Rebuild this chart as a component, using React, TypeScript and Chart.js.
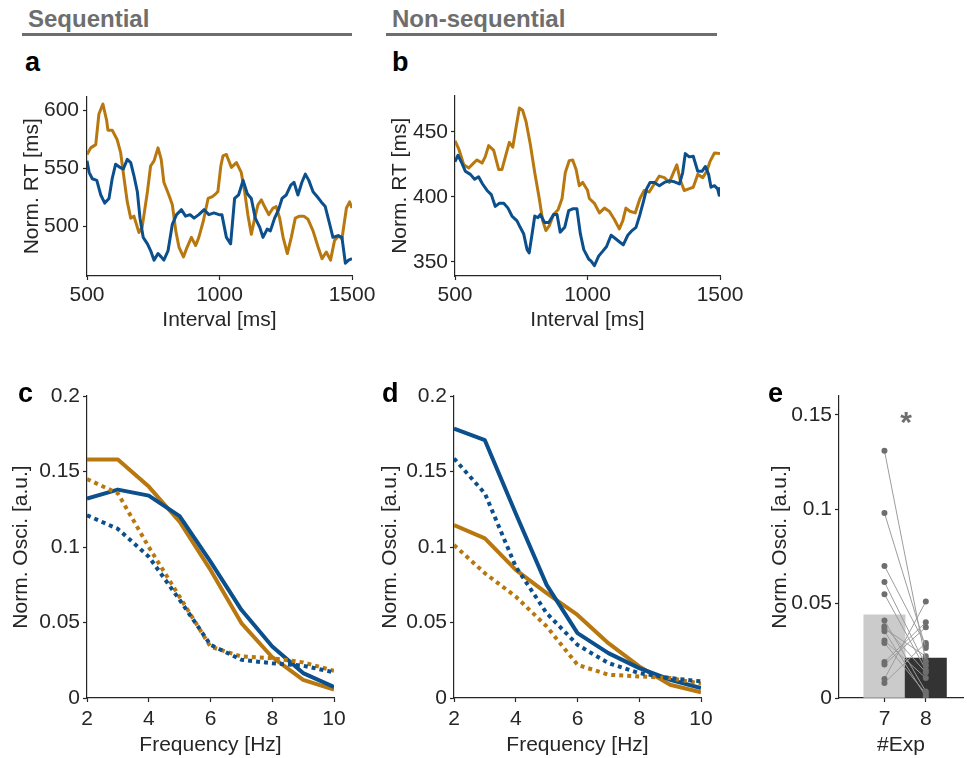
import React, { useEffect, useRef } from "react";
import { Chart, registerables } from "chart.js";
Chart.register(...registerables);

// ---------------- data ----------------
// Panel a (Sequential): interval [ms] vs normalized RT [ms]
const seqBlue: [number, number][] = [
  [500, 556.5], [508, 546.6], [520, 541], [537, 539.6], [552, 527], [567, 520], [583, 524], [595, 541],
  [608, 553.6], [625, 550.8], [637, 549.4], [652, 557.8], [665, 555], [677, 543.8], [690, 529.8], [700, 507],
  [712, 490.4], [728, 484.8], [740, 479], [753, 470.7], [768, 476.4], [780, 473.5], [790, 470.7], [806, 479],
  [822, 501.7], [838, 510], [856, 514.3], [872, 508.7], [889, 510], [904, 507], [922, 510], [942, 514.3],
  [960, 510], [979, 511.5], [998, 510], [1009, 510], [1026, 490.4], [1042, 484.8], [1057, 524], [1072, 527],
  [1089, 539.6], [1105, 528], [1120, 524], [1135, 507], [1152, 499], [1164, 490.4], [1180, 497.5], [1192, 496],
  [1208, 507], [1223, 514.3], [1236, 524], [1252, 527], [1269, 535.5], [1281, 538], [1296, 527], [1311, 538],
  [1324, 545], [1337, 539.6], [1353, 529.8], [1369, 525.5], [1384, 521], [1399, 517], [1416, 501.7], [1428, 490.4],
  [1447, 491.8], [1462, 490.4], [1475, 468], [1487, 470.7], [1500, 472],
];
const seqOrange: [number, number][] = [
  [500, 562], [514, 567.7], [533, 570.5], [545, 597], [560, 605.6], [574, 591.6], [579, 583], [595, 583],
  [614, 574.7], [627, 563.5], [640, 541], [652, 521], [665, 507], [677, 508.7], [696, 494.6], [708, 499],
  [728, 529.8], [740, 552], [753, 556.5], [768, 567.7], [780, 557.8], [790, 538], [809, 527], [822, 518.5],
  [835, 496], [847, 482], [864, 473.5], [878, 482], [894, 490.4], [910, 483.4], [922, 490.4], [939, 504.5],
  [957, 524], [973, 525.5], [986, 528], [994, 530], [1005, 552], [1013, 560.7], [1026, 562], [1045, 550.8],
  [1064, 555], [1082, 546.6], [1095, 529.8], [1107, 510], [1120, 493], [1133, 507], [1145, 518.5], [1158, 522.7],
  [1170, 517], [1186, 510], [1202, 515.7], [1214, 517], [1227, 507], [1240, 490.4], [1256, 476.4], [1271, 490.4],
  [1286, 507], [1302, 508.7], [1318, 508.7], [1334, 506], [1353, 496], [1372, 482], [1387, 472], [1403, 477.7],
  [1419, 470.7], [1434, 487.6], [1450, 491.8], [1462, 489], [1479, 515.7], [1491, 521], [1500, 515.7],
];

// Panel b (Non-sequential)
const nonBlue: [number, number][] = [
  [500, 427.1], [511, 432], [526, 426], [539, 419.7], [558, 417.3], [574, 413.6], [589, 415.5], [604, 409.9],
  [621, 404.9], [637, 401.7], [652, 392.6], [667, 395], [684, 395], [700, 391.3], [715, 385.2], [734, 381.5],
  [746, 376.5], [759, 371.6], [772, 359.3], [780, 356.8], [791, 371.6], [801, 385.2], [813, 383.9], [822, 386.4],
  [838, 380.2], [854, 380.2], [872, 386.4], [885, 386.4], [897, 372.8], [914, 376.5], [929, 389.4], [944, 390.8],
  [960, 390.8], [973, 371.6], [986, 359.3], [1005, 351.9], [1013, 350.6], [1026, 346.9], [1042, 354.3], [1057, 358],
  [1072, 361.7], [1089, 370.4], [1105, 367.9], [1120, 365.4], [1135, 363], [1152, 370.4], [1168, 374], [1183, 376.5],
  [1198, 386.4], [1211, 396.3], [1223, 406.1], [1236, 411.1], [1252, 411.1], [1271, 408.6], [1290, 411.1], [1309, 412.3],
  [1328, 411.6], [1347, 409.9], [1359, 418.5], [1369, 433.3], [1384, 430.8], [1399, 431.3], [1416, 419.7], [1432, 419.7],
  [1445, 423.4], [1457, 417.3], [1466, 407.4], [1479, 408.6], [1491, 406.1], [1497, 401.2], [1500, 407.4],
];
const nonOrange: [number, number][] = [
  [500, 443.2], [514, 437], [533, 424.7], [552, 422.2], [570, 426], [583, 428.4], [602, 426], [614, 430.8],
  [627, 439.5], [646, 435.8], [665, 421], [677, 421], [690, 430.8], [705, 442], [718, 438.2], [730, 453],
  [743, 468.4], [755, 466.7], [768, 458], [784, 440.7], [801, 418.5], [818, 398.7], [831, 381.5], [843, 374],
  [856, 377.8], [872, 386.4], [889, 390], [904, 398.7], [916, 418.5], [931, 427.9], [944, 428.4], [957, 421],
  [969, 408.6], [982, 411.1], [1000, 405], [1007, 398.7], [1026, 395], [1045, 387.6], [1064, 391.3], [1082, 388.9],
  [1101, 382.7], [1120, 375.3], [1133, 381.5], [1145, 391.3], [1160, 388.9], [1180, 387.6], [1198, 398.7], [1214, 404.9],
  [1233, 403.7], [1252, 409.9], [1271, 416], [1290, 414.8], [1309, 411.1], [1324, 418.5], [1337, 424.7], [1349, 413.6],
  [1365, 404.9], [1382, 406.1], [1399, 407.4], [1416, 417.3], [1435, 414.8], [1450, 419.7], [1462, 427.1], [1479, 433.8],
  [1500, 433.3],
];

// Panels c, d: frequency spectra
const freqHz = [2, 3, 4, 5, 6, 7, 8, 9, 10];
const seqBlueSolid = [0.132, 0.138, 0.134, 0.1205, 0.0903, 0.0584, 0.0341, 0.0165, 0.0073];
const seqOrangeSolid = [0.158, 0.158, 0.14, 0.1167, 0.0848, 0.0496, 0.027, 0.012, 0.0055];
const seqBlueDotted = [0.121, 0.112, 0.0936, 0.065, 0.0352, 0.0253, 0.023, 0.0214, 0.017];
const seqOrangeDotted = [0.145, 0.1355, 0.1, 0.067, 0.034, 0.0275, 0.0264, 0.0236, 0.018];

const nonBlueSolid = [0.1784, 0.1707, 0.1222, 0.0749, 0.043, 0.0297, 0.0198, 0.0121, 0.0066];
const nonOrangeSolid = [0.1145, 0.1057, 0.0848, 0.0694, 0.055, 0.0363, 0.0209, 0.0088, 0.0037];
const nonBlueDotted = [0.1586, 0.1355, 0.087, 0.0562, 0.0352, 0.0231, 0.0165, 0.0132, 0.011];
const nonOrangeDotted = [0.1013, 0.0826, 0.0672, 0.0474, 0.022, 0.0154, 0.0143, 0.0132, 0.0095];

// Panel e: experiments 7 and 8 (paired subjects)
const expLabels = [7, 8];
const expMeans = [0.044, 0.0212];
const exp7Vals = [0.131, 0.098, 0.07, 0.0614, 0.055, 0.041, 0.038, 0.0368, 0.0354, 0.0304, 0.0292, 0.0191, 0.0177, 0.0101, 0.008];
const exp8Vals = [0.0194, 0.0265, 0.0279, 0.0172, 0.015, 0.0035, 0.0136, 0.0221, 0.0009, 0.0106, 0.0023, 0.0401, 0.0375, 0.0511, 0.0292];

// ---------------- styles ----------------
const FONT = "'Liberation Sans', Arial, Helvetica, sans-serif";
const FS = 21;
const INK = "#262626";
const BLUE = "#0b4f8c";
const ORANGE = "#b9780f";
const GRAY = "#6e6e6e";

const fmt = (v: any) => String(+Number(v).toFixed(6));

type AxisSpec = {
  min: number; max: number; step?: number; title: string; size: number;
  tickPad: number; titlePad: number; vertical: boolean; ticks?: number[];
};

function makeAxis(s: AxisSpec): any {
  const ax: any = {
    type: "linear",
    min: s.min,
    max: s.max,
    offset: false,
    border: { display: true, color: INK, width: 1.2 },
    grid: { display: true, drawOnChartArea: false, drawTicks: true, tickLength: 4, tickColor: INK, tickWidth: 1.2, offset: false },
    ticks: {
      stepSize: s.step, includeBounds: false, autoSkip: false, maxRotation: 0, minRotation: 0,
      color: INK, padding: s.tickPad, font: { family: FONT, size: FS }, callback: fmt,
    },
    title: {
      display: true, text: s.title, color: INK, font: { family: FONT, size: FS },
      padding: s.vertical ? { top: s.titlePad, bottom: 0 } : { top: 0, bottom: s.titlePad },
    },
    afterFit: (scale: any) => {
      if (s.vertical) scale.width = s.size;
      else scale.height = s.size;
    },
  };
  if (s.ticks) {
    const t = s.ticks;
    ax.afterBuildTicks = (scale: any) => { scale.ticks = t.map((v) => ({ value: v })); };
  }
  return ax;
}

function baseOptions(padTop: number, padRight: number, x: any, y: any): any {
  return {
    animation: false,
    responsive: false,
    maintainAspectRatio: false,
    events: [],
    layout: { padding: { top: padTop, right: padRight, left: 0, bottom: 0 } },
    plugins: { legend: { display: false }, tooltip: { enabled: false } },
    scales: { x, y },
  };
}

const seriesLine = (pts: { x: number; y: number }[], color: string, width: number, dashed = false): any => ({
  type: "line",
  data: pts,
  borderColor: color,
  backgroundColor: color,
  borderWidth: width,
  borderDash: dashed ? [4, 4] : [],
  borderCapStyle: "butt",
  borderJoinStyle: "round",
  pointRadius: 0,
  fill: false,
  tension: 0,
});

const tuples = (arr: [number, number][]) => arr.map(([x, y]) => ({ x, y }));
const spectrum = (vals: number[]) => freqHz.map((f, i) => ({ x: f, y: vals[i] }));

// ---------------- chart configs ----------------
function configA(): any {
  return {
    type: "line",
    data: { datasets: [seriesLine(tuples(seqBlue), BLUE, 3), seriesLine(tuples(seqOrange), ORANGE, 3)] },
    options: baseOptions(
      12, 28,
      makeAxis({ min: 500, max: 1500, step: 500, title: "Interval [ms]", size: 64, tickPad: 2.5, titlePad: 7.5, vertical: false }),
      makeAxis({ min: 457, max: 612, step: 50, title: "Norm. RT [ms]", size: 87, tickPad: 4, titlePad: 19.4, vertical: true }),
    ),
  };
}

function configB(): any {
  return {
    type: "line",
    data: { datasets: [seriesLine(tuples(nonBlue), BLUE, 3), seriesLine(tuples(nonOrange), ORANGE, 3)] },
    options: baseOptions(
      9, 30,
      makeAxis({ min: 500, max: 1500, step: 500, title: "Interval [ms]", size: 64, tickPad: 2.5, titlePad: 7.5, vertical: false }),
      makeAxis({ min: 339, max: 478, step: 50, title: "Norm. RT [ms]", size: 85, tickPad: 3, titlePad: 17.4, vertical: true }),
    ),
  };
}

function configSpectrum(bs: number[], os: number[], bd: number[], od: number[], yWidth: number, padRight: number, titlePad: number): any {
  return {
    type: "line",
    data: {
      datasets: [
        seriesLine(spectrum(bd), BLUE, 4, true),
        seriesLine(spectrum(od), ORANGE, 4, true),
        seriesLine(spectrum(bs), BLUE, 4),
        seriesLine(spectrum(os), ORANGE, 4),
      ],
    },
    options: baseOptions(
      16, padRight,
      makeAxis({ min: 2, max: 10, step: 2, title: "Frequency [Hz]", size: 60, tickPad: 5, titlePad: 0.5, vertical: false }),
      makeAxis({ min: 0, max: 0.2, step: 0.05, title: "Norm. Osci. [a.u.]", size: yWidth, tickPad: 3, titlePad, vertical: true }),
    ),
  };
}

function configE(): any {
  const pairs = exp7Vals.map((v, i) => ({
    type: "line",
    data: [{ x: expLabels[0], y: v }, { x: expLabels[1], y: exp8Vals[i] }],
    borderColor: "#9c9c9c",
    borderWidth: 1,
    pointRadius: 3,
    pointBorderWidth: 0,
    pointBackgroundColor: GRAY,
    pointBorderColor: GRAY,
    fill: false,
    tension: 0,
    order: 1,
  }));
  return {
    type: "line",
    data: {
      datasets: [
        {
          type: "bar",
          data: expLabels.map((x, i) => ({ x, y: expMeans[i] })),
          backgroundColor: ["#cbcbcb", "#333333"],
          borderWidth: 0,
          barPercentage: 1,
          categoryPercentage: 1,
          order: 2,
        },
        ...pairs,
      ],
    },
    options: baseOptions(
      16, 0,
      makeAxis({ min: 5.9, max: 8.9, title: "#Exp", size: 60, tickPad: 5, titlePad: 0.5, vertical: false, ticks: expLabels }),
      makeAxis({ min: 0, max: 0.16, step: 0.05, title: "Norm. Osci. [a.u.]", size: 99, tickPad: 3, titlePad: 27.4, vertical: true }),
    ),
  };
}

// ---------------- components ----------------
function ChartBox(props: { left: number; top: number; width: number; height: number; make: () => any }) {
  const ref = useRef<HTMLCanvasElement>(null);
  useEffect(() => {
    const chart = new Chart(ref.current as HTMLCanvasElement, props.make());
    return () => chart.destroy();
  }, []);
  const { left, top, width, height } = props;
  return (
    <canvas
      ref={ref}
      width={width}
      height={height}
      style={{ position: "absolute", left, top, width, height }}
    />
  );
}

function Txt(props: { text: string; left: number; top: number; size: number; color: string; center?: boolean }) {
  return (
    <div
      style={{
        position: "absolute",
        left: props.left,
        top: props.top,
        fontFamily: FONT,
        fontWeight: "bold",
        fontSize: props.size,
        lineHeight: props.size + "px",
        color: props.color,
        whiteSpace: "nowrap",
        transform: props.center ? "translateX(-50%)" : undefined,
      }}
    >
      {props.text}
    </div>
  );
}

export default function App() {
  return (
    <div style={{ position: "fixed", left: 0, top: 0, width: 967, height: 758, background: "#ffffff", overflow: "hidden" }}>
      <ChartBox left={0} top={80} width={380} height={260} make={configA} />
      <ChartBox left={370} top={80} width={380} height={260} make={configB} />
      <ChartBox left={0} top={380} width={370} height={378} make={() => configSpectrum(seqBlueSolid, seqOrangeSolid, seqBlueDotted, seqOrangeDotted, 87, 36, 8.4)} />
      <ChartBox left={370} top={380} width={370} height={378} make={() => configSpectrum(nonBlueSolid, nonOrangeSolid, nonBlueDotted, nonOrangeDotted, 84, 39, 7.4)} />
      <ChartBox left={740} top={380} width={227} height={378} make={configE} />

      <Txt text="Sequential" left={28} top={7} size={24} color={GRAY} />
      <div style={{ position: "absolute", left: 22, top: 32.5, width: 330, height: 3, background: GRAY }} />
      <Txt text="Non-sequential" left={392} top={7} size={24} color={GRAY} />
      <div style={{ position: "absolute", left: 386, top: 32.5, width: 331, height: 3, background: GRAY }} />

      <Txt text="a" left={25} top={49} size={27} color="#000" />
      <Txt text="b" left={392} top={49} size={27} color="#000" />
      <Txt text="c" left={18} top={380} size={27} color="#000" />
      <Txt text="d" left={382} top={380} size={27} color="#000" />
      <Txt text="e" left={768} top={380} size={27} color="#000" />
      <Txt text="*" left={906} top={407} size={30} color={GRAY} center />
    </div>
  );
}
